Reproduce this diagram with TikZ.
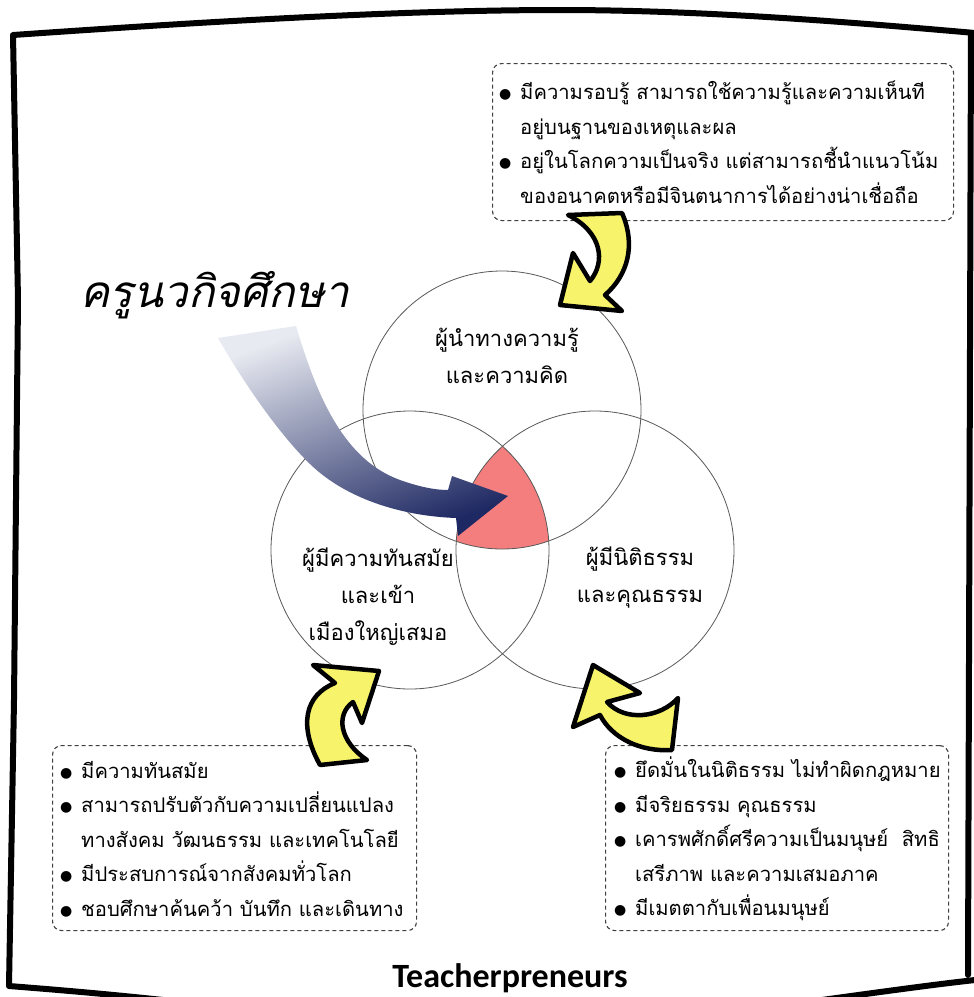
\documentclass[tikz,border=0pt]{standalone}
\usepackage{fontspec}
\newfontfamily\thaibox[Script=Thai]{Loma}
\newfontfamily\thaititle[Script=Thai,FakeSlant=0.22]{Loma}
\newfontfamily\latinbold{Carlito}
\newfontfamily\symfont{DejaVu Sans}
\definecolor{arrowyellow}{HTML}{F7F36B}
\definecolor{vennred}{HTML}{F47E7E}
\definecolor{navydark}{HTML}{1E2862}
\definecolor{navylight}{HTML}{E8EAF1}
\definecolor{navymid}{HTML}{465083}
\newcommand\boxfontsel{\thaibox\fontsize{20.2}{34.5}\selectfont}
\newcommand\circfontsel{\thaibox\fontsize{22}{37}\selectfont}
\newcommand\bl{\makebox[21pt][l]{\raisebox{1pt}{\symfont\fontsize{14}{14}\selectfont ●}}}
\newcommand\ind{\makebox[21pt][l]{}}
\tikzset{
  framestyle/.style={line width=6pt, line cap=round, line join=round, draw=black},
  infobox/.style={draw=black!75, line width=1.1pt, dash pattern=on 4pt off 3pt,
    rounded corners=9pt, anchor=north west, inner sep=0pt},
  boxtext/.style={align=left, font=\boxfontsel, anchor=west, inner sep=0pt},
  venn/.style={circle, draw=black!65, line width=0.8pt, minimum size=278pt, inner sep=0pt},
  circtext/.style={font=\circfontsel, align=center},
  yarrow/.style={fill=arrowyellow, draw=black, line width=4.5pt, line join=round},
}
\begin{document}
\begin{tikzpicture}[x=1pt, y=-1pt]
\useasboundingbox (0,0) rectangle (974,997);
\fill[white] (0,0) rectangle (974,997);

% frame
\draw[framestyle] (975,33) .. controls (850,22) and (700,10) .. (560,10)
   .. controls (400,10) and (200,22) .. (13,35)
   -- (18,300) -- (14,700) -- (9,986)
   .. controls (60,990) and (120,995) .. (190,1003);
\draw[framestyle] (971,33) -- (968,975);
\draw[framestyle] (800,1003) .. controls (880,992) and (930,985) .. (975,980);

% red intersection
\begin{scope}
  \clip (502,410) circle [radius=139];
  \clip (410,550) circle [radius=139];
  \fill[vennred] (595,550) circle [radius=139];
\end{scope}

% circles
\node[venn] (ctop) at (502,410) {};
\node[venn] (cleft) at (410,550) {};
\node[venn] (cright) at (595,550) {};

% circle texts
\node[circtext] (ttop) at (507,356) {ผู้นำทางความรู้\\และความคิด};
\node[circtext] (tleft) at (378,597) {ผู้มีความทันสมัย\\และเข้า\\เมืองใหญ่เสมอ};
\node[circtext] (tright) at (640,578) {ผู้มีนิติธรรม\\และคุณธรรม};

% navy arrow
\shade[top color=navylight, middle color=navymid, bottom color=navydark, shading angle=20]
  (218,338) -- (296,326)
  .. controls (318,400) and (345,460) .. (400,480)
  .. controls (420,487) and (435,490) .. (448,490)
  -- (452,476) -- (508,496) -- (458,536) -- (456,518)
  .. controls (400,516) and (345,498) .. (310,464)
  .. controls (280,435) and (245,385) .. (218,338) -- cycle;

% title
\node[font={\thaititle\fontsize{44}{50}\selectfont}, anchor=base west, inner sep=0pt] (title) at (80,307) {ครูนวกิจศึกษา};

% boxes
\node[infobox, minimum width=461pt, minimum height=157pt] (btop) at (492,63) {};
\node[boxtext] (btopt) at (499,142)
 {\bl มีความรอบรู้ สามารถใช้ความรู้และความเห็นที\\
  \ind อยู่บนฐานของเหตุและผล\\
  \bl อยู่ในโลกความเป็นจริง แต่สามารถชี้นำแนวโน้ม\\
  \ind ของอนาคตหรือมีจินตนาการได้อย่างน่าเชื่อถือ};
\node[infobox, minimum width=364pt, minimum height=185pt] (bleft) at (52,745) {};
\node[boxtext] (bleftt) at (60,839)
 {\bl มีความทันสมัย\\
  \bl สามารถปรับตัวกับความเปลี่ยนแปลง\\
  \ind ทางสังคม วัฒนธรรม และเทคโนโลยี\\
  \bl มีประสบการณ์จากสังคมทั่วโลก\\
  \bl ชอบศึกษาค้นคว้า บันทึก และเดินทาง};
\node[infobox, minimum width=343pt, minimum height=185pt] (bright) at (605,745) {};
\node[boxtext] (brightt) at (614,839)
 {\bl ยึดมั่นในนิติธรรม ไม่ทำผิดกฎหมาย\\
  \bl มีจริยธรรม คุณธรรม\\
  \bl เคารพศักดิ์ศรีความเป็นมนุษย์\ \ สิทธิ\\
  \ind เสรีภาพ และความเสมอภาค\\
  \bl มีเมตตากับเพื่อนมนุษย์};

% yellow arrows
\draw[yarrow] (568,215) -- (622,213) .. controls (636,245) and (628,275) .. (605,295)
  -- (622,311) -- (560,305) -- (573,253) -- (590,281)
  .. controls (606,262) and (602,232) .. (568,215) -- cycle;
\draw[yarrow] (320,765) .. controls (298,725) and (305,695) .. (335,683)
  -- (313,665) -- (379,671) -- (362,723) -- (353,702)
  .. controls (335,715) and (340,742) .. (367,760) -- cycle;
\draw[yarrow] (593,665) -- (640,693) -- (607,702)
  .. controls (625,722) and (660,718) .. (678,698) -- (672,750)
  .. controls (640,752) and (612,738) .. (600,715) -- (573,727) -- cycle;

% bottom title
\node[font={\latinbold\bfseries\fontsize{34}{40}\selectfont}, anchor=base, inner sep=0pt] (brand) at (510,987) {Teacherpreneurs};
\end{tikzpicture}
\end{document}
